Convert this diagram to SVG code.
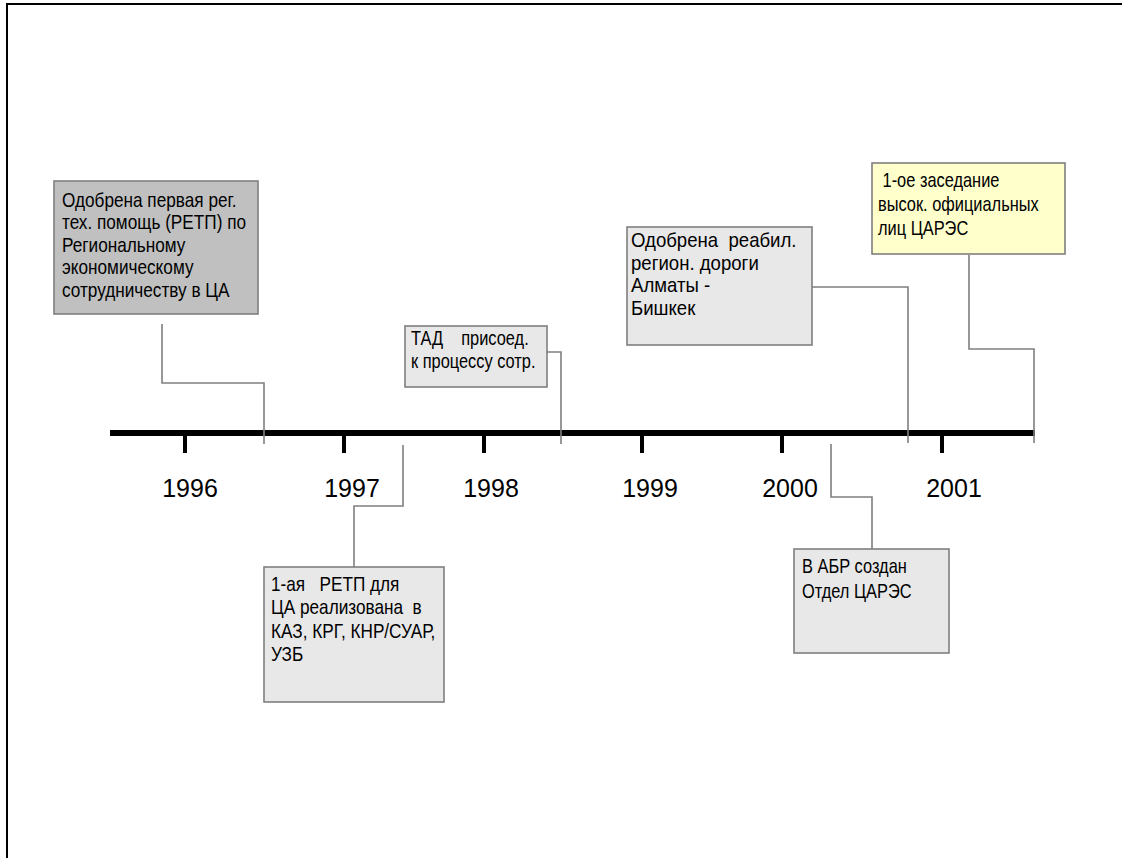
<svg xmlns="http://www.w3.org/2000/svg" width="1122" height="858" viewBox="0 0 1122 858">
<style>
.box{fill:#e8e8e8;stroke:#7f7f7f;stroke-width:1.6}
.dark{fill:#c0c0c0}
.yel{fill:#ffffcc}
.t{font-family:"Liberation Sans",Arial,sans-serif;font-size:20px;fill:#000;white-space:pre}
.yr{font-family:"Liberation Sans",Arial,sans-serif;font-size:25px;fill:#000;text-anchor:middle}
.con{fill:none;stroke:#7f7f7f;stroke-width:1.6}
.tick{stroke:#000;stroke-width:4}
</style>
<rect x="0" y="0" width="1122" height="858" fill="#fff"/>
<g id="frame">
<line x1="6" y1="4" x2="1122" y2="4" stroke="#000" stroke-width="2"/>
<line x1="7" y1="3" x2="7" y2="858" stroke="#000" stroke-width="2"/>
</g>
<g id="timeline">
<line x1="110" y1="433" x2="1035" y2="433" stroke="#000" stroke-width="6"/>
<line class="tick" x1="185" y1="435" x2="185" y2="453"/>
<line class="tick" x1="344" y1="435" x2="344" y2="453"/>
<line class="tick" x1="484" y1="435" x2="484" y2="453"/>
<line class="tick" x1="642" y1="435" x2="642" y2="453"/>
<line class="tick" x1="782" y1="435" x2="782" y2="453"/>
<line class="tick" x1="942" y1="435" x2="942" y2="453"/>
<text class="yr" x="190" y="497">1996</text>
<text class="yr" x="352" y="497">1997</text>
<text class="yr" x="491" y="497">1998</text>
<text class="yr" x="650" y="497">1999</text>
<text class="yr" x="790" y="497">2000</text>
<text class="yr" x="954" y="497">2001</text>
</g>
<g id="connectors">
<polyline class="con" points="162,324 162,383 264,383 264,444"/>
<polyline class="con" points="354,567 354,506 403,506 403,445"/>
<polyline class="con" points="547,352 561,352 561,444"/>
<polyline class="con" points="812,287 908,287 908,443"/>
<polyline class="con" points="872,549 872,497 831,497 831,444"/>
<polyline class="con" points="969,255 969,349 1034,349 1034,443"/>
</g>
<g id="n1">
<rect class="box dark" x="54" y="181" width="204" height="133"/>
<text class="t" transform="translate(62,207) scale(0.86,1)"><tspan x="0" y="0">Одобрена первая рег.</tspan><tspan x="0" y="22.4">тех. помощь (РЕТП) по</tspan><tspan x="0" y="44.8">Региональному</tspan><tspan x="0" y="67.2">экономическому</tspan><tspan x="0" y="89.6">сотрудничеству в ЦА</tspan></text>
</g>
<g id="n2">
<rect class="box" x="264" y="567" width="180" height="135"/>
<text class="t" transform="translate(271,591) scale(0.86,1)"><tspan x="0" y="0">1-ая   РЕТП для</tspan><tspan x="0" y="23.5">ЦА реализована  в</tspan><tspan x="0" y="47">КАЗ, КРГ, КНР/СУАР,</tspan><tspan x="0" y="70.5">УЗБ</tspan></text>
</g>
<g id="n3">
<rect class="box" x="405" y="326" width="142" height="61"/>
<text class="t" transform="translate(411,345) scale(0.82,1)"><tspan x="0" y="0">ТАД    присоед.</tspan><tspan x="0" y="23.5">к процессу сотр.</tspan></text>
</g>
<g id="n4">
<rect class="box" x="627" y="227" width="185" height="118"/>
<text class="t" transform="translate(631,247) scale(0.93,1)"><tspan x="0" y="0">Одобрена  реабил.</tspan><tspan x="0" y="22.7">регион. дороги</tspan><tspan x="0" y="45.4">Алматы -</tspan><tspan x="0" y="68.1">Бишкек</tspan></text>
</g>
<g id="n5">
<rect class="box" x="794" y="549" width="155" height="104"/>
<text class="t" transform="translate(802,573) scale(0.82,1)"><tspan x="0" y="0">В АБР создан</tspan><tspan x="0" y="25">Отдел ЦАРЭС</tspan></text>
</g>
<g id="n6">
<rect class="box yel" x="872" y="163" width="193" height="91"/>
<text class="t" transform="translate(878,187) scale(0.82,1)"><tspan x="0" y="0"> 1-ое заседание</tspan><tspan x="0" y="24">высок. официальных</tspan><tspan x="0" y="48">лиц ЦАРЭС</tspan></text>
</g>
</svg>
